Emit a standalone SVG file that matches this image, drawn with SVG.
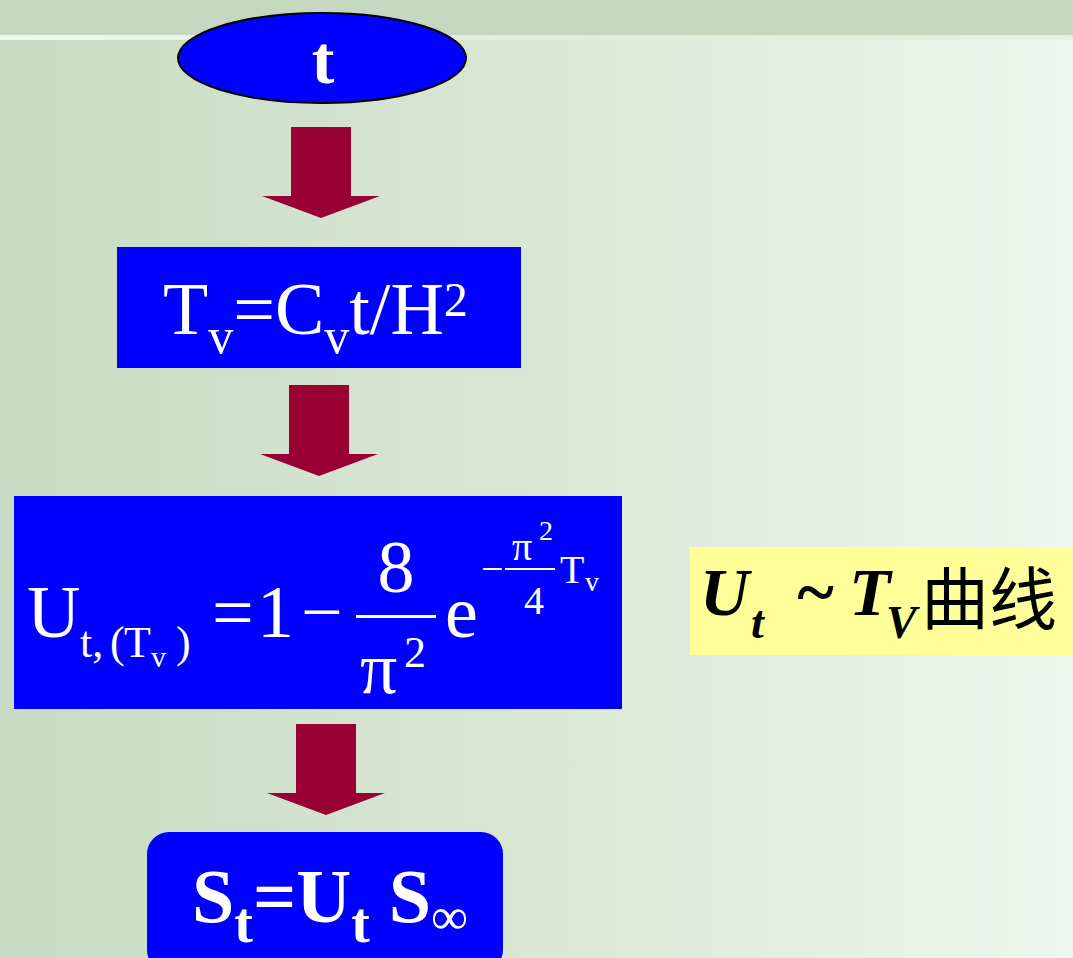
<svg xmlns="http://www.w3.org/2000/svg" width="1073" height="958" viewBox="0 0 1073 958">
<defs>
<linearGradient id="bg" x1="0" y1="0" x2="1" y2="0">
<stop offset="0" stop-color="#c8dac4"/>
<stop offset="0.5" stop-color="#d9e8d5"/>
<stop offset="1" stop-color="#edf8ec"/>
</linearGradient>
<linearGradient id="ln" x1="0" y1="0" x2="1" y2="0">
<stop offset="0" stop-color="#eef8ec"/>
<stop offset="0.55" stop-color="#dfecdb"/>
<stop offset="1" stop-color="#e6f2e3"/>
</linearGradient>
<path id="arr" d="M-30,0 H30 V69 H59 L0,91 L-59,69 H-30 Z"/>
<style>
.arrow{fill:#990033}
.box{fill:#0000ff}
.w{fill:#ffffff;font-family:"Liberation Serif","Times New Roman",serif}
.b{font-weight:bold}
.k{fill:#000000;font-family:"Liberation Serif","Times New Roman",serif;font-weight:bold;font-style:italic}
.cjk{fill:#000000;font-family:"Noto Sans CJK SC",sans-serif}
</style>
</defs>
<rect x="0" y="0" width="1073" height="958" fill="url(#bg)"/>
<rect x="0" y="0" width="1073" height="35" fill="#c5d7bf"/>
<rect x="0" y="35" width="1073" height="5" fill="url(#ln)"/>

<g id="connectors">
<use href="#arr" class="arrow" x="321" y="127"/>
<use href="#arr" class="arrow" x="319" y="385"/>
<use href="#arr" class="arrow" x="326" y="724"/>
</g>

<g id="node-t">
<ellipse cx="322" cy="58" rx="144" ry="45" class="box" stroke="#000" stroke-width="2"/>
<text x="323" y="83" class="w b" font-size="68" text-anchor="middle">t</text>
</g>

<g id="node-tv">
<rect x="117" y="247" width="404" height="121" class="box"/>
<text x="163" y="334" class="w" font-size="74">T<tspan font-size="50" dy="19">v</tspan><tspan dy="-19">=C</tspan><tspan font-size="50" dy="19">v</tspan><tspan dy="-19">t/H</tspan><tspan font-size="48" dy="-18">2</tspan></text>
</g>

<g id="node-ut">
<rect x="14" y="496" width="608" height="213" class="box"/>
<text x="27" y="637" class="w" font-size="74">U</text>
<text x="80" y="657" class="w" font-size="44">t,</text>
<text x="110" y="657" class="w" font-size="44">(</text>
<text x="124" y="657" class="w" font-size="44">T</text>
<text x="151" y="667" class="w" font-size="30">v</text>
<text x="176" y="657" class="w" font-size="44">)</text>
<text x="212" y="637" class="w" font-size="74">=</text>
<text x="257" y="637" class="w" font-size="74">1</text>
<text x="301" y="637" class="w" font-size="74">−</text>
<text x="396" y="592" class="w" font-size="74" text-anchor="middle">8</text>
<rect x="356" y="615" width="80" height="3" fill="#fff"/>
<text x="360" y="693" class="w" font-size="74">π</text>
<text x="404" y="667" class="w" font-size="44">2</text>
<text x="445" y="637" class="w" font-size="74">e</text>
<text x="481" y="582" class="w" font-size="40">−</text>
<rect x="505" y="568" width="50" height="2" fill="#fff"/>
<text x="512" y="560" class="w" font-size="40">π</text>
<text x="539" y="540" class="w" font-size="28">2</text>
<text x="524" y="614" class="w" font-size="40">4</text>
<text x="560" y="583" class="w" font-size="40">T</text>
<text x="585" y="591" class="w" font-size="28">v</text>
</g>

<g id="node-st">
<rect x="147" y="832" width="356" height="140" rx="22" class="box"/>
<text x="192" y="922" class="w b" font-size="76">S<tspan font-size="56" dy="20">t</tspan><tspan dy="-20">=U</tspan><tspan font-size="56" dy="20">t</tspan><tspan dy="-20"> S</tspan><tspan font-size="52" dy="12" font-weight="normal">∞</tspan></text>
</g>

<g id="label-curve">
<rect x="690" y="547" width="390" height="108" fill="#ffff99"/>
<text x="700" y="615" class="k" font-size="68">U</text>
<text x="751" y="638" class="k" font-size="46">t</text>
<text x="795" y="615" class="k" font-size="70" font-style="normal">~</text>
<text x="849" y="615" class="k" font-size="68">T</text>
<text x="886" y="638" class="k" font-size="46">V</text>
<text x="921" y="624" class="cjk" font-size="68">曲线</text>
</g>
</svg>
